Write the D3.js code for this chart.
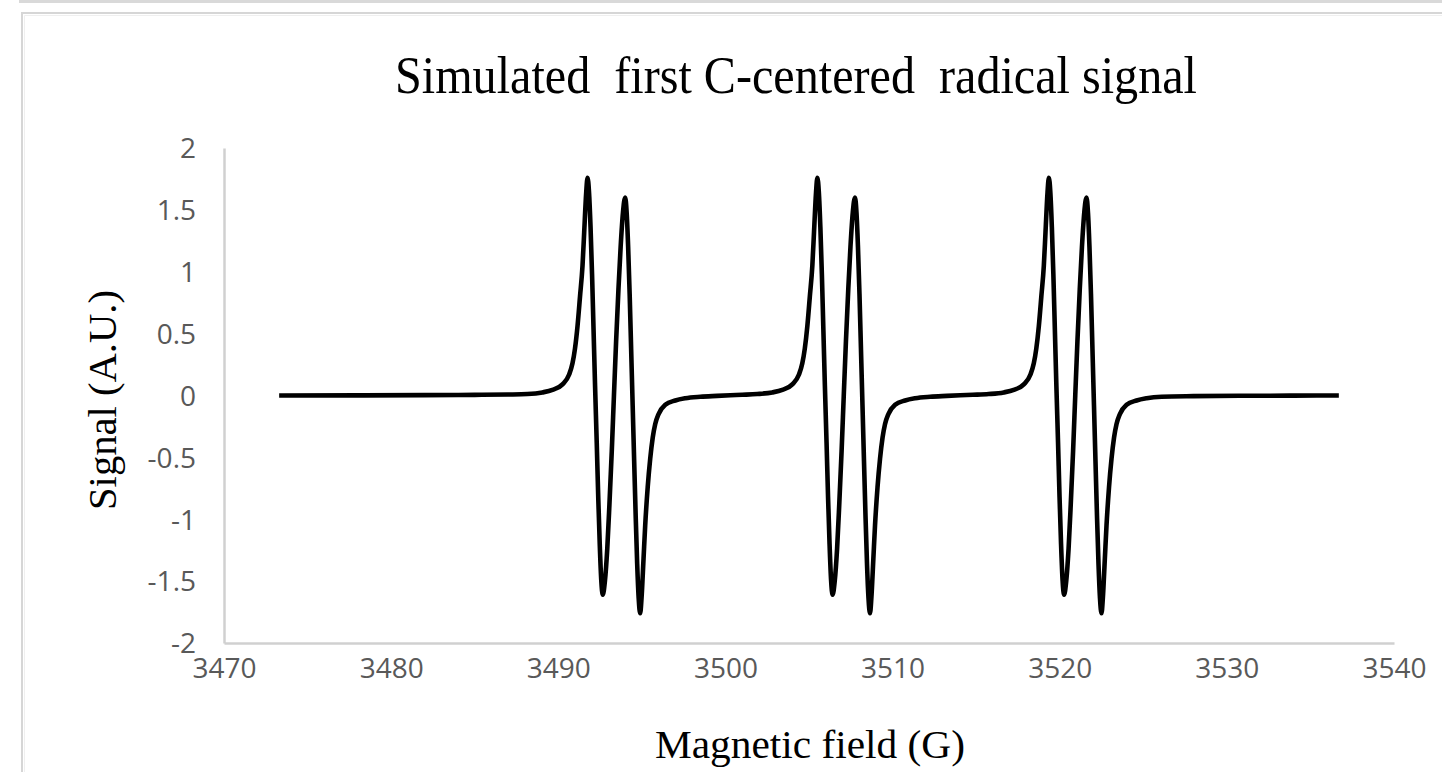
<!DOCTYPE html>
<html>
<head>
<meta charset="utf-8">
<script src="https://cdn.jsdelivr.net/npm/d3@7"></script>
<style>
  body { margin: 0; background: #fff; }
  text { white-space: pre; }
</style>
</head>
<body>
<div id="chart"></div>
<script>
// field (G) and signal (A.U.), segment by segment
const fieldLead = [3473.3, 3478, 3482, 3485, 3487];
const signalLead = [0, 0.001, 0.003, 0.005, 0.008];

const fieldG1 = [3488.15, 3489.05, 3489.65, 3490.25, 3490.65, 3490.85, 3491.0, 3491.15, 3491.3, 3491.45,
  3491.55, 3491.67, 3491.75, 3491.84, 3491.93, 3492.02, 3492.11, 3492.2, 3492.3, 3492.39,
  3492.48, 3492.57, 3492.66, 3492.79, 3492.93, 3493.06, 3493.2, 3493.33, 3493.46, 3493.6,
  3493.73, 3493.87, 3494.0, 3494.09, 3494.18, 3494.27, 3494.36, 3494.45, 3494.54, 3494.63,
  3494.72, 3494.81, 3494.9, 3494.98, 3495.1, 3495.2, 3495.35, 3495.5, 3495.65, 3495.8,
  3496.0, 3496.4, 3497.0, 3497.6];
const fieldGap1 = [3498.5, 3499.5, 3500.3, 3501.0];
const signalGap1 = [-0.01, -0.003, 0.002, 0.006];

const fieldG2 = [3501.9, 3502.8, 3503.4, 3504.0, 3504.4, 3504.6, 3504.75, 3504.9, 3505.05, 3505.2,
  3505.3, 3505.42, 3505.5, 3505.59, 3505.68, 3505.77, 3505.86, 3505.95, 3506.05, 3506.14,
  3506.23, 3506.32, 3506.41, 3506.54, 3506.68, 3506.81, 3506.95, 3507.08, 3507.21, 3507.35,
  3507.48, 3507.62, 3507.75, 3507.84, 3507.93, 3508.02, 3508.11, 3508.2, 3508.29, 3508.38,
  3508.47, 3508.56, 3508.65, 3508.73, 3508.85, 3508.95, 3509.1, 3509.25, 3509.4, 3509.55,
  3509.75, 3510.15, 3510.75, 3511.35];
const fieldGap2 = [3512.25, 3513.25, 3514.05, 3514.8];
const signalGap2 = [-0.01, -0.003, 0.002, 0.006];

const fieldG3 = [3515.75, 3516.65, 3517.25, 3517.85, 3518.25, 3518.45, 3518.6, 3518.75, 3518.9, 3519.05,
  3519.15, 3519.27, 3519.35, 3519.44, 3519.53, 3519.62, 3519.71, 3519.8, 3519.9, 3519.99,
  3520.08, 3520.17, 3520.26, 3520.39, 3520.53, 3520.66, 3520.8, 3520.93, 3521.06, 3521.2,
  3521.33, 3521.47, 3521.6, 3521.69, 3521.78, 3521.87, 3521.96, 3522.05, 3522.14, 3522.23,
  3522.32, 3522.41, 3522.5, 3522.58, 3522.7, 3522.8, 3522.95, 3523.1, 3523.25, 3523.4,
  3523.6, 3524.0, 3524.6, 3525.2];
const fieldTail = [3526.1, 3528, 3531, 3534, 3536.7];
const signalTail = [-0.01, -0.005, -0.002, -0.001, 0];

// the three line groups have the same shape
const signalGroup = [0.012, 0.025, 0.045, 0.09, 0.17, 0.26, 0.38, 0.56, 0.8, 1.05,
  1.32, 1.64, 1.76, 1.64, 1.36, 0.98, 0.53, 0.08, -0.38, -0.82,
  -1.2, -1.49, -1.61, -1.5, -1.24, -0.88, -0.45, 0.0, 0.44, 0.86,
  1.2, 1.48, 1.6, 1.48, 1.2, 0.82, 0.37, -0.08, -0.53, -0.97,
  -1.36, -1.64, -1.76, -1.64, -1.32, -1.05, -0.74, -0.51, -0.34, -0.23,
  -0.15, -0.075, -0.04, -0.022];

const xTicks = [3470, 3480, 3490, 3500, 3510, 3520, 3530, 3540];
const yTicks = [-2, -1.5, -1, -0.5, 0, 0.5, 1, 1.5, 2];

const width = 1442, height = 772;
const margin = { top: 148, left: 224, right: 48, bottom: 129 };

function pairs(xs, ys) { return xs.map((x, i) => ({ x: x, y: ys[i] })); }

const data = [].concat(
  pairs(fieldLead, signalLead),
  pairs(fieldG1, signalGroup),
  pairs(fieldGap1, signalGap1),
  pairs(fieldG2, signalGroup),
  pairs(fieldGap2, signalGap2),
  pairs(fieldG3, signalGroup),
  pairs(fieldTail, signalTail)
);

const svg = d3.select('#chart').append('svg')
  .attr('width', width)
  .attr('height', height);

// frame bits from the screenshot
svg.append('line')
  .attr('x1', 19).attr('x2', width).attr('y1', 1.5).attr('y2', 1.5)
  .attr('stroke', '#d9d9d9').attr('stroke-width', 3);
svg.append('path')
  .attr('d', 'M22,' + height + 'V13H' + width)
  .attr('fill', 'none').attr('stroke', '#d6d6d6').attr('stroke-width', 2);
svg.append('path')
  .attr('d', 'M24.5,' + height + 'V15.5H' + width)
  .attr('fill', 'none').attr('stroke', '#efefef').attr('stroke-width', 1);

const x = d3.scaleLinear().domain([3470, 3540]).range([margin.left, width - margin.right]);
const y = d3.scaleLinear().domain([-2, 2]).range([height - margin.bottom, margin.top]);

const xAxis = svg.append('g')
  .attr('transform', 'translate(0,' + y(-2) + ')')
  .call(d3.axisBottom(x).tickValues(xTicks).tickSize(0).tickPadding(15).tickFormat(d3.format('d')));

const yAxis = svg.append('g')
  .attr('transform', 'translate(' + x(3470) + ',0)')
  .call(d3.axisLeft(y).tickValues(yTicks).tickSize(0).tickPadding(28).tickFormat(d => d));

[xAxis, yAxis].forEach(a => {
  a.select('.domain').attr('stroke', '#d0d0d0').attr('stroke-width', 2.5);
  a.selectAll('text')
    .attr('fill', '#595959')
    .style('font-family', '"Open Sans", sans-serif')
    .style('font-size', '28px');
});
yAxis.selectAll('text').attr('dy', '0.35em');

const line = d3.line()
  .x(d => x(d.x))
  .y(d => y(d.y))
  .curve(d3.curveMonotoneX);

svg.append('path')
  .datum(data)
  .attr('d', line)
  .attr('fill', 'none')
  .attr('stroke', '#000')
  .attr('stroke-width', 4.6)
  .attr('stroke-linejoin', 'round');

// titles
svg.append('text')
  .attr('x', 796).attr('y', 93)
  .attr('text-anchor', 'middle')
  .attr('textLength', 802)
  .attr('lengthAdjust', 'spacingAndGlyphs')
  .style('font-family', '"Liberation Serif", "Times New Roman", serif')
  .style('font-size', '52px')
  .attr('fill', '#000')
  .text('Simulated  first C-centered  radical signal');

svg.append('text')
  .attr('x', 810).attr('y', 758)
  .attr('text-anchor', 'middle')
  .attr('textLength', 310)
  .attr('lengthAdjust', 'spacingAndGlyphs')
  .style('font-family', '"Liberation Serif", "Times New Roman", serif')
  .style('font-size', '41px')
  .attr('fill', '#000')
  .text('Magnetic field (G)');

svg.append('text')
  .attr('transform', 'translate(116,400) rotate(-90)')
  .attr('text-anchor', 'middle')
  .attr('textLength', 220)
  .attr('lengthAdjust', 'spacingAndGlyphs')
  .style('font-family', '"Liberation Serif", "Times New Roman", serif')
  .style('font-size', '40px')
  .attr('fill', '#000')
  .text('Signal (A.U.)');
</script>
</body>
</html>
